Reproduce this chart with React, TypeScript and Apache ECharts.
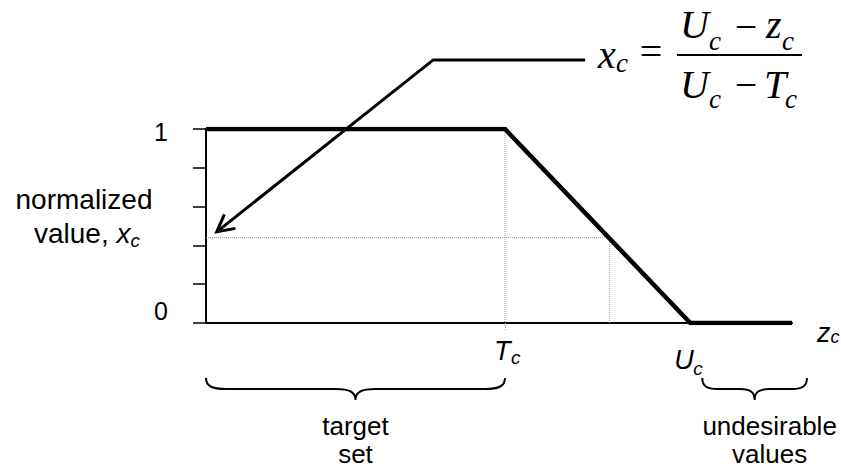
import React, { useEffect, useRef } from 'react';
import * as echarts from 'echarts';

// ---- data ----
const targetValue = 5; // T_c
const upperValue = 8.1; // U_c
const axisEnd = 9.8;
const curveX = [0, 5, 8.1, 9.8];
const curveY = [1, 1, 0, 0];
const sampleZ = 6.75;
const sampleX = 0.44;
const yTickLabels = ['0', '1'];
const xMarkValues = [targetValue, upperValue];
const xMarkLetters = ['T', 'U'];
const arrowX = [6.34, 3.8, 0.18];
const arrowY = [1.356, 1.356, 0.47];
const braceStart = [0, 8.3];
const braceEnd = [5, 10.05];
const braceLabels = ['target\nset', 'undesirable\nvalues'];

const sans = '"Liberation Sans", Arial, sans-serif';
const serif = '"Liberation Serif", "Times New Roman", serif';

function ft(text: string, x: number, baseline: number, size: number, italic: boolean, align = 'left') {
  return {
    type: 'text',
    x,
    y: baseline - 0.3375 * size,
    style: {
      text,
      font: `${italic ? 'italic ' : ''}${size}px ${serif}`,
      fill: '#000',
      align,
      textAlign: align,
      verticalAlign: 'middle',
      textVerticalAlign: 'middle',
    },
  };
}

export default function App() {
  const ref = useRef<HTMLDivElement>(null);
  useEffect(() => {
    if (!ref.current) return;
    const chart = echarts.init(ref.current, null, { renderer: 'svg' });

    const arrowData = arrowX.map((x, i) => [x, arrowY[i]]);
    const braceData = braceStart.map((s, i) => [s, braceEnd[i]]);
    const markData = xMarkValues.map((v) => [v, 0]);

    const option: any = {
      animation: false,
      backgroundColor: '#fff',
      grid: { left: 206, right: 49, top: 129, bottom: 147 },
      xAxis: {
        type: 'value',
        min: 0,
        max: axisEnd,
        axisLine: { show: true, onZero: false, lineStyle: { color: '#000', width: 2 } },
        axisTick: {
          show: true,
          customValues: [targetValue],
          length: 7,
          lineStyle: { color: '#9a9a9a', type: 'dotted', width: 1 },
        },
        axisLabel: { show: false },
        splitLine: { show: false },
        name: '{z|z}{s|c}',
        nameLocation: 'end',
        nameGap: 25,
        nameTextStyle: {
          padding: [19, 0, 0, 0],
          rich: {
            z: { fontFamily: sans, fontStyle: 'italic', fontSize: 27, color: '#000', lineHeight: 30 },
            s: { fontFamily: sans, fontStyle: 'italic', fontSize: 18, color: '#000', lineHeight: 20, padding: [8, 0, 0, 0] },
          },
        },
      },
      yAxis: {
        type: 'value',
        min: 0,
        max: 1,
        interval: 0.2,
        axisLine: { show: true, lineStyle: { color: '#000', width: 2 } },
        axisTick: { show: true, length: 13, lineStyle: { color: '#000', width: 1.5 } },
        splitLine: { show: false },
        axisLabel: {
          margin: 38,
          formatter: (v: number) => (v === 0 ? `{z|${yTickLabels[0]}}` : v === 1 ? `{o|${yTickLabels[1]}}` : ''),
          rich: {
            z: { fontFamily: sans, fontSize: 25, color: '#000', padding: [0, 0, 24, 0] },
            o: { fontFamily: sans, fontSize: 25, color: '#000', padding: [5, 0, 0, 0] },
          },
        },
      },
      series: [
        {
          type: 'line',
          data: [[targetValue, 1], [targetValue, 0]],
          symbol: 'none',
          lineStyle: { color: '#9a9a9a', type: 'dotted', width: 1 },
          z: 1,
        },
        {
          type: 'line',
          data: [[0, sampleX], [sampleZ, sampleX], [sampleZ, 0]],
          symbol: 'none',
          lineStyle: { color: '#9a9a9a', type: 'dotted', width: 1 },
          z: 1,
        },
        {
          type: 'line',
          data: curveX.map((x, i) => [x, curveY[i]]),
          symbol: 'none',
          lineStyle: { color: '#000', width: 4.5, join: 'miter', cap: 'butt' },
          z: 3,
        },
        {
          type: 'custom',
          coordinateSystem: 'cartesian2d',
          data: arrowData,
          clip: false,
          z: 4,
          renderItem: (params: any, api: any) => {
            if (params.dataIndex !== 0) return { type: 'group', children: [] };
            const pts = arrowData.map((p) => api.coord(p));
            const tip = pts[pts.length - 1];
            const prev = pts[pts.length - 2];
            const dx = tip[0] - prev[0];
            const dy = tip[1] - prev[1];
            const len = Math.sqrt(dx * dx + dy * dy);
            const ux = dx / len;
            const uy = dy / len;
            const L = 19;
            const a = (28 * Math.PI) / 180;
            const rot = (ang: number) => [ux * Math.cos(ang) - uy * Math.sin(ang), ux * Math.sin(ang) + uy * Math.cos(ang)];
            const r1 = rot(a);
            const r2 = rot(-a);
            const h1 = [tip[0] - r1[0] * L, tip[1] - r1[1] * L];
            const h2 = [tip[0] - r2[0] * L, tip[1] - r2[1] * L];
            return {
              type: 'group',
              children: [
                { type: 'polyline', shape: { points: pts }, style: { stroke: '#000', lineWidth: 3, fill: 'none', lineJoin: 'miter' } },
                { type: 'polyline', shape: { points: [h1, tip, h2] }, style: { stroke: '#000', lineWidth: 3, fill: 'none', lineJoin: 'miter' } },
              ],
            };
          },
        },
        {
          type: 'custom',
          coordinateSystem: 'cartesian2d',
          data: braceData,
          clip: false,
          z: 4,
          renderItem: (params: any, api: any) => {
            const s = api.coord([api.value(0), 0]);
            const e = api.coord([api.value(1), 0]);
            const x0 = s[0];
            const x1 = e[0];
            const top = s[1] + 55;
            const mid = top + 11;
            const tip = top + 22;
            const xm = (x0 + x1) / 2;
            const r = Math.min(20, (x1 - x0) / 7);
            const d = `M${x0},${top} C${x0},${top + 8} ${x0 + r * 0.3},${mid} ${x0 + r},${mid} L${xm - r},${mid} C${xm - r * 0.3},${mid} ${xm},${mid + 3} ${xm},${tip} C${xm},${mid + 3} ${xm + r * 0.3},${mid} ${xm + r},${mid} L${x1 - r},${mid} C${x1 - r * 0.3},${mid} ${x1},${top + 8} ${x1},${top}`;
            const labelShift = params.dataIndex === 1 ? 15 : 0;
            return {
              type: 'group',
              children: [
                { type: 'path', shape: { pathData: d }, style: { stroke: '#000', lineWidth: 2, fill: 'none' } },
                {
                  type: 'text',
                  x: xm + labelShift,
                  y: top + 34,
                  style: {
                    text: braceLabels[params.dataIndex],
                    font: `26px ${sans}`,
                    lineHeight: 28,
                    fill: '#000',
                    align: 'center',
                    textAlign: 'center',
                    verticalAlign: 'top',
                    textVerticalAlign: 'top',
                  },
                },
              ],
            };
          },
        },
        {
          type: 'custom',
          coordinateSystem: 'cartesian2d',
          data: markData,
          clip: false,
          z: 4,
          renderItem: (params: any, api: any) => {
            const p = api.coord([api.value(0), 0]);
            const i = params.dataIndex;
            const o = i === 0 ? { lx: -11, lb: 37, sx: 6, sb: 41 } : { lx: -16, lb: 46, sx: 3, sb: 52 };
            const mk = (text: string, x: number, base: number, size: number) => ({
              type: 'text',
              x,
              y: base - 0.3465 * size,
              style: {
                text,
                font: `italic ${size}px ${sans}`,
                fill: '#000',
                align: 'left',
                textAlign: 'left',
                verticalAlign: 'middle',
                textVerticalAlign: 'middle',
              },
            });
            return {
              type: 'group',
              children: [mk(xMarkLetters[i], p[0] + o.lx, p[1] + o.lb, 27), mk('c', p[0] + o.sx, p[1] + o.sb, 19)],
            };
          },
        },
      ],
      graphic: [
        {
          type: 'text',
          x: 84,
          y: 199,
          style: {
            text: 'normalized',
            font: `28px ${sans}`,
            fill: '#000',
            align: 'center',
            textAlign: 'center',
            verticalAlign: 'middle',
            textVerticalAlign: 'middle',
          },
        },
        {
          type: 'text',
          x: 87,
          y: 233,
          style: {
            text: '{a|value, }{i|x}{s|c}',
            fill: '#000',
            align: 'center',
            textAlign: 'center',
            verticalAlign: 'middle',
            textVerticalAlign: 'middle',
            rich: {
              a: { fontFamily: sans, fontSize: 28, lineHeight: 32, fill: '#000', color: '#000' },
              i: { fontFamily: sans, fontSize: 28, fontStyle: 'italic', lineHeight: 32, fill: '#000', color: '#000' },
              s: { fontFamily: sans, fontSize: 19, fontStyle: 'italic', lineHeight: 21, padding: [14, 0, 0, 0], fill: '#000', color: '#000' },
            },
          },
        },
        ft('x', 598, 68, 40, true),
        ft('c', 616, 72, 27, true),
        ft('=', 651, 65, 40, false, 'center'),
        ft('U', 680, 38, 40, true),
        ft('c', 709, 50, 27, true),
        ft('\u2212', 746, 40, 40, false, 'center'),
        ft('z', 766, 38, 40, true),
        ft('c', 782, 50, 27, true),
        { type: 'line', shape: { x1: 677, y1: 55, x2: 802, y2: 55 }, style: { stroke: '#000', lineWidth: 2 } },
        ft('U', 680, 98, 40, true),
        ft('c', 709, 108, 27, true),
        ft('\u2212', 746, 98, 40, false, 'center'),
        ft('T', 764, 98, 40, true),
        ft('c', 785, 108, 27, true),
      ],
    };

    chart.setOption(option);
    return () => chart.dispose();
  }, []);

  return (
    <div
      ref={ref}
      style={{ position: 'absolute', left: 0, top: 0, width: 841, height: 470, background: '#fff' }}
    />
  );
}
